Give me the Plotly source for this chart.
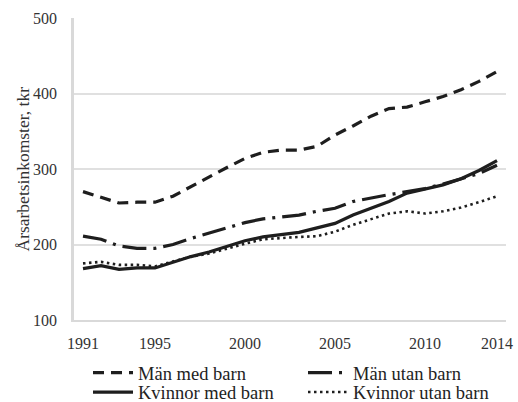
import plotly.graph_objects as go

years = list(range(1991, 2015))
man_med_barn = [270, 262, 255, 256, 256, 264, 277, 290, 302, 314, 322, 325, 325, 330,
                345, 357, 370, 380, 382, 389, 396, 405, 416, 429]
man_utan_barn = [211, 207, 198, 195, 195, 200, 208, 215, 222, 229, 234, 236, 239, 244,
                 248, 257, 262, 266, 270, 274, 280, 287, 294, 305]
kvinnor_med_barn = [168, 172, 167, 169, 169, 177, 184, 190, 198, 205, 210, 213, 216, 222,
                    228, 239, 248, 257, 268, 273, 279, 287, 298, 311]
kvinnor_utan_barn = [175, 177, 173, 173, 171, 178, 184, 188, 195, 201, 207, 209, 210, 211,
                     217, 226, 233, 241, 244, 241, 244, 249, 256, 264]
x_ticks = [1991, 1995, 2000, 2005, 2010, 2014]
y_ticks = [100, 200, 300, 400, 500]
y_title = "Årsarbetsinkomster, tkr"

INK = "#1e1e1e"
FONT = "Liberation Serif"

fig = go.Figure()
fig.add_trace(go.Scatter(x=years, y=man_med_barn, mode="lines", name="Män med barn",
                         line=dict(color=INK, width=3.2, dash="11px,7px"), legend="legend"))
fig.add_trace(go.Scatter(x=years, y=man_utan_barn, mode="lines", name="Män utan barn",
                         line=dict(color=INK, width=3.2, dash="24px,7px,3px,7px"), legend="legend2"))
fig.add_trace(go.Scatter(x=years, y=kvinnor_med_barn, mode="lines", name="Kvinnor med barn",
                         line=dict(color=INK, width=3.2), legend="legend3"))
fig.add_trace(go.Scatter(x=years, y=kvinnor_utan_barn, mode="lines", name="Kvinnor utan barn",
                         line=dict(color=INK, width=2.6, dash="2.5px,3.5px"), legend="legend4"))


def leg(xpx, ypx):
    return dict(orientation="h", xref="container", yref="container",
                x=xpx / 518, y=1 - ypx / 402, xanchor="left", yanchor="middle",
                font=dict(family=FONT, size=18.5, color="#222"),
                bgcolor="rgba(0,0,0,0)", itemwidth=40)


fig.update_layout(
    width=518, height=402,
    margin=dict(l=74, r=12, t=18, b=82, autoexpand=False),
    paper_bgcolor="white", plot_bgcolor="white",
    font=dict(family=FONT, size=16, color="#333"),
    showlegend=True,
    legend=leg(88, 373),
    legend2=leg(303, 373),
    legend3=leg(88, 392.5),
    legend4=leg(303, 392.5),
    xaxis=dict(range=[1990.5, 2014.5], tickvals=x_ticks, showgrid=False,
               showline=True, linecolor="#d9d9d9", linewidth=2, zeroline=False,
               ticks="", ticklabelstandoff=8, automargin=False,
               tickfont=dict(family=FONT, size=16, color="#333")),
    yaxis=dict(range=[100, 500], tickvals=y_ticks, showgrid=True, gridcolor="#e0e0e0",
               gridwidth=1.5, showline=True, linecolor="#d9d9d9", linewidth=2.5,
               zeroline=False, ticks="", ticklabelstandoff=11, automargin=False,
               tickfont=dict(family=FONT, size=16, color="#333")),
    annotations=[dict(text=y_title, xref="paper", yref="paper",
                      x=(22.5 - 74) / 432, y=0.5, xanchor="center", yanchor="middle",
                      textangle=-90, showarrow=False,
                      font=dict(family=FONT, size=17.5, color="#333"))],
)

fig.write_html("out.html", config={"displayModeBar": False},
               post_script="document.body.style.margin='0px';")
